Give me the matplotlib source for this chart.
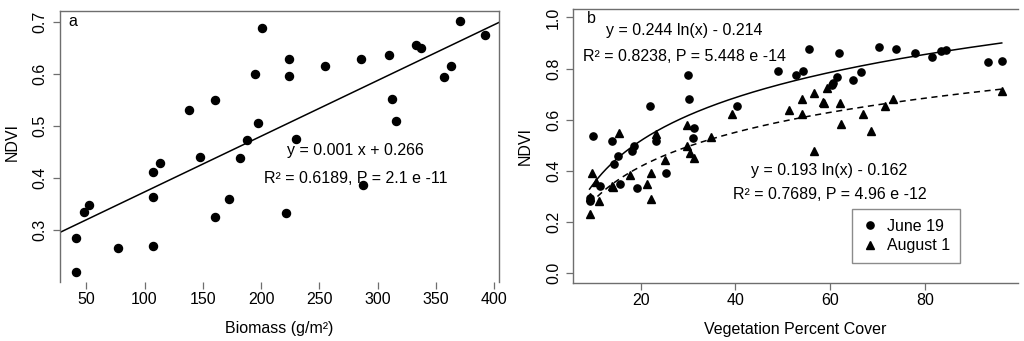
import numpy as np
import matplotlib
matplotlib.use("Agg")
import matplotlib.pyplot as plt

plt.rcParams["font.family"] = ["Liberation Sans", "DejaVu Sans"]
plt.rcParams["font.size"] = 11.5

# panel a: biomass vs NDVI
biomass = [41.1, 41.4, 47.7, 52.3, 77, 107, 107.5, 107.5, 113, 138, 147.7,
           160.6, 160.6, 172.6, 182.2, 188, 194.6, 197.4, 201, 221.6, 224,
           224, 230.3, 254.6, 285.3, 287.3, 310, 312, 315.3, 333, 337.3,
           370.7, 356.9, 363.2, 391.6]
ndvi_a = [0.285, 0.219, 0.334, 0.347, 0.265, 0.364, 0.269, 0.411, 0.428,
          0.530, 0.440, 0.549, 0.324, 0.360, 0.438, 0.473, 0.599, 0.505,
          0.688, 0.333, 0.629, 0.596, 0.475, 0.615, 0.629, 0.386, 0.637,
          0.551, 0.510, 0.655, 0.649, 0.702, 0.594, 0.615, 0.674]

# panel b: percent cover vs NDVI, two dates
cover_jun = [9.2, 9.4, 10.0, 11.4, 13.9, 14.4, 15.1, 15.6, 18.2, 18.6, 19.3,
             22.0, 23.2, 25.3, 29.9, 30.1, 31.2, 31.0, 40.3, 49.0, 52.8, 54.3,
             55.5, 60.3, 60.6, 61.5, 61.8, 64.7, 66.4, 70.2, 73.9, 77.9, 81.4,
             83.3, 84.4, 93.3, 96.2]
ndvi_jun = [0.279, 0.292, 0.537, 0.338, 0.515, 0.426, 0.459, 0.346, 0.476,
            0.495, 0.332, 0.653, 0.515, 0.391, 0.774, 0.679, 0.565, 0.526,
            0.655, 0.789, 0.776, 0.792, 0.875, 0.734, 0.745, 0.768, 0.862,
            0.754, 0.785, 0.886, 0.875, 0.861, 0.845, 0.868, 0.871, 0.827,
            0.831]
cover_aug = [9.3, 9.3, 9.8, 10.6, 11.3, 13.9, 14.2, 15.5, 17.7, 21.4, 22.2,
             22.2, 23.2, 25.2, 29.7, 29.7, 30.4, 31.2, 34.9, 39.3, 51.3, 54.0,
             54.1, 56.5, 56.5, 58.4, 58.6, 59.4, 62.1, 62.3, 67.0, 68.5, 71.6,
             73.2, 96.3]
ndvi_aug = [0.230, 0.296, 0.391, 0.354, 0.279, 0.341, 0.335, 0.548, 0.384,
            0.347, 0.290, 0.391, 0.544, 0.443, 0.580, 0.495, 0.469, 0.450,
            0.531, 0.623, 0.636, 0.620, 0.682, 0.705, 0.476, 0.668, 0.664,
            0.722, 0.666, 0.584, 0.620, 0.556, 0.655, 0.682, 0.712]

# log fits as printed on the chart
jun_fit = (0.244, -0.214)
aug_fit = (0.193, -0.162)

grey = "#6e6e6e"
fig = plt.figure(figsize=(10.24, 3.41), dpi=100)
ax1 = fig.add_axes([0.0586, 0.173, 0.4287, 0.7947])
ax2 = fig.add_axes([0.560, 0.169, 0.434, 0.8044])

for ax in (ax1, ax2):
    for s in ax.spines.values():
        s.set_color(grey)
        s.set_linewidth(1.0)
    ax.tick_params(direction="out", length=5, width=0.9, color=grey,
                   labelsize=11.5)
    ax.tick_params(axis="y", pad=4)
    ax.tick_params(axis="x", pad=2)

# ---- panel a
ax1.plot(biomass, ndvi_a, "o", color="black", markersize=5.8)
slope, icpt = np.polyfit(biomass, ndvi_a, 1)
xx = np.array([27.5, 404])
ax1.plot(xx, slope * xx + icpt, color="black", lw=1.1)
ax1.set_xlim(27.5, 404)
ax1.set_ylim(0.2, 0.7206)
ax1.set_xticks([50, 100, 150, 200, 250, 300, 350, 400])
ax1.set_yticks([0.3, 0.4, 0.5, 0.6, 0.7])
ax1.spines["bottom"].set_visible(False)
ax1.text(38.8, 0.70, "a", ha="center", va="center")
ax1.text(281, 0.452, "y = 0.001 x + 0.266", ha="center", va="center")
ax1.text(281, 0.399, "R² = 0.6189, P = 2.1 e -11", ha="center", va="center")
ax1.set_xlabel("Biomass (g/m²)", va="baseline")
ax1.xaxis.set_label_coords(0.5, -0.188)
ax1.set_ylabel("NDVI", va="center")
ax1.yaxis.set_label_coords(-0.108, 0.515)

# ---- panel b
ax2.plot(cover_jun, ndvi_jun, "o", color="black", markersize=5.2,
         label="June 19")
ax2.plot(cover_aug, ndvi_aug, "^", color="black", markersize=5.6,
         label="August 1")
xs = np.linspace(min(cover_jun), max(cover_jun), 200)
ax2.plot(xs, jun_fit[0] * np.log(xs) + jun_fit[1], color="black", lw=1.1)
xs = np.linspace(min(cover_aug), max(cover_aug), 200)
ax2.plot(xs, aug_fit[0] * np.log(xs) + aug_fit[1], color="black", lw=1.1,
         ls=(0, (4, 3)))
ax2.set_xlim(5.8, 99.6)
ax2.set_ylim(-0.042, 1.033)
ax2.set_xticks([20, 40, 60, 80])
ax2.set_yticks([0.0, 0.2, 0.4, 0.6, 0.8, 1.0])
ax2.spines["right"].set_visible(False)
ax2.text(9.5, 0.995, "b", ha="center", va="center")
ax2.text(29.2, 0.950, "y = 0.244 ln(x) - 0.214", ha="center", va="center")
ax2.text(29.2, 0.849, "R² = 0.8238, P = 5.448 e -14", ha="center",
         va="center")
ax2.text(59.7, 0.400, "y = 0.193 ln(x) - 0.162", ha="center", va="center")
ax2.text(59.9, 0.308, "R² = 0.7689, P = 4.96 e -12", ha="center",
         va="center")
ax2.set_xlabel("Vegetation Percent Cover", va="baseline")
ax2.xaxis.set_label_coords(0.5, -0.185)
ax2.set_ylabel("NDVI", va="center")
ax2.yaxis.set_label_coords(-0.108, 0.5)
leg = ax2.legend(loc="upper left", bbox_to_anchor=(0.6276, 0.2709),
                 borderaxespad=0, fancybox=False, handlelength=1.0,
                 handletextpad=0.6, borderpad=0.6, labelspacing=0.3,
                 fontsize=11.5)
leg.get_frame().set_edgecolor(grey)
leg.get_frame().set_linewidth(1.0)

for ax in (ax1, ax2):
    for lab in ax.get_yticklabels():
        lab.set_rotation(90)
        lab.set_va("center")

fig.savefig("out.png", dpi=100)
